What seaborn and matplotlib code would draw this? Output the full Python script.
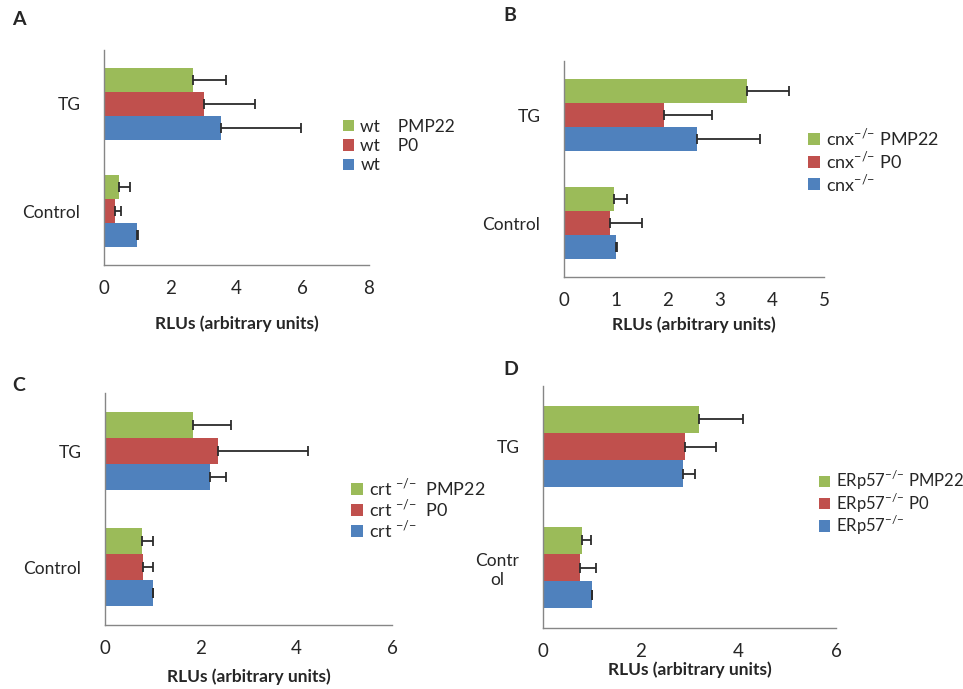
import numpy as np
import pandas as pd
import seaborn as sns
import matplotlib.pyplot as plt

categories = ['TG', 'Control']
colors = ['#9BBB59', '#C0504D', '#4F81BD']

SUP = r'$^{\mathrm{{-}/{-}}}$'

# panel A - wild type
a_labels = ['wt    PMP22', 'wt    P0', 'wt']
a_means = [[2.68, 0.46], [3.01, 0.34], [3.52, 1.00]]
a_errs = [[0.99, 0.33], [1.56, 0.16], [2.43, 0.02]]

# panel B - cnx
b_labels = ['cnx' + SUP + ' PMP22', 'cnx' + SUP + ' P0', 'cnx' + SUP]
b_means = [[3.52, 0.96], [1.92, 0.88], [2.56, 1.00]]
b_errs = [[0.81, 0.26], [0.93, 0.62], [1.20, 0.01]]

# panel C - crt
c_labels = ['crt ' + SUP + '  PMP22', 'crt ' + SUP + '  P0', 'crt ' + SUP]
c_means = [[1.85, 0.77], [2.36, 0.79], [2.20, 1.00]]
c_errs = [[0.78, 0.24], [1.89, 0.21], [0.32, 0.01]]

# panel D - ERp57
d_labels = ['ERp57' + SUP + ' PMP22', 'ERp57' + SUP + ' P0', 'ERp57' + SUP]
d_means = [[3.20, 0.80], [2.91, 0.75], [2.86, 1.00]]
d_errs = [[0.90, 0.18], [0.63, 0.33], [0.25, 0.01]]

AXIS_GREY = '#868686'


def plot_panel(ax, letter, labels, means, errs, xticks, ylabels, labelpad,
               leg_xy, leg_font, leg_space):
    """Horizontal grouped bars with one-sided error bars"""
    df = pd.DataFrame({
        'series': np.repeat(labels, len(categories)),
        'category': categories * len(labels),
        'rlu': np.concatenate(means),
    })
    sns.barplot(data=df, x='rlu', y='category', hue='series', order=categories,
                hue_order=labels, palette=colors, width=0.67, gap=0, saturation=1,
                errorbar=None, edgecolor='none', ax=ax)

    for cont, err in zip(ax.containers, errs):
        for bar, e in zip(cont, err):
            ax.errorbar(bar.get_width(), bar.get_y() + bar.get_height() / 2,
                        xerr=[[0], [e]], fmt='none', ecolor='#2b2b2b',
                        elinewidth=1.3, capsize=3.6, capthick=1.3)

    ax.set_xlim(xticks[0], xticks[-1])
    ax.set_xticks(xticks)
    ax.set_ylim(1.5, -0.5)
    ax.set_yticks([0, 1], labels=ylabels)
    ax.set_yticks([-0.5, 0.5, 1.5], minor=True)
    for lab in ax.get_yticklabels():
        lab.set_multialignment('center')
    ax.tick_params(axis='y', which='major', length=0, pad=17, labelsize=12.5)
    ax.tick_params(axis='y', which='minor', length=6, color=AXIS_GREY, width=1)
    ax.tick_params(axis='x', length=6, color=AXIS_GREY, width=1, labelsize=13.5, pad=5)
    ax.set_ylabel('')
    ax.set_xlabel('RLUs (arbitrary units)', fontweight='bold', fontsize=12.5, labelpad=labelpad)
    sns.despine(ax=ax)
    for side in ['left', 'bottom']:
        ax.spines[side].set_color(AXIS_GREY)
        ax.spines[side].set_linewidth(1)

    handles, texts = ax.get_legend_handles_labels()
    ax.legend(handles, texts, loc='center left', bbox_to_anchor=leg_xy,
              bbox_transform=ax.figure.transFigure, frameon=False, fontsize=leg_font,
              handlelength=0.65, handleheight=0.65, handletextpad=0.35,
              labelspacing=leg_space, borderpad=0, borderaxespad=0)

    ax.text(0, 1, letter, transform=ax.transAxes, fontsize=14, fontweight='bold')


def main():
    sns.set_style('white')
    plt.rcParams['font.family'] = ['Lato', 'DejaVu Sans']
    plt.rcParams['mathtext.fontset'] = 'custom'
    plt.rcParams['mathtext.rm'] = 'Lato'

    fig = plt.figure(figsize=(9.63, 6.89), dpi=100)
    W, H = 963, 689

    def add_ax(left, right, top, bottom):
        return fig.add_axes([left / W, 1 - bottom / H, (right - left) / W, (bottom - top) / H])

    ax_a = add_ax(104, 369, 50, 265)
    ax_b = add_ax(564, 824, 61, 277)
    ax_c = add_ax(105, 392, 393, 625)
    ax_d = add_ax(543, 836, 386, 628)

    plot_panel(ax_a, 'A', a_labels, a_means, a_errs, [0, 2, 4, 6, 8],
               ['TG', 'Control'], 13, (343 / W, 1 - 146 / H), 12.5, 0.2)
    plot_panel(ax_b, 'B', b_labels, b_means, b_errs, [0, 1, 2, 3, 4, 5],
               ['TG', 'Control'], 5, (808 / W, 1 - 160 / H), 13, 0.05)
    plot_panel(ax_c, 'C', c_labels, c_means, c_errs, [0, 2, 4, 6],
               ['TG', 'Control'], 8, (351 / W, 1 - 508 / H), 13, -0.05)
    plot_panel(ax_d, 'D', d_labels, d_means, d_errs, [0, 2, 4, 6],
               ['TG', 'Contr\nol'], 1, (819 / W, 1 - 503 / H), 12, -0.05)

    # panel letters sit in the top-left corner of each quadrant
    for ax, (x, y) in zip(fig.axes, [(12, 11), (503, 7), (12, 377), (503, 361)]):
        t = ax.texts[-1]
        t.set_transform(fig.transFigure)
        t.set_position((x / W, 1 - y / H))
        t.set_verticalalignment('top')

    fig.savefig('out.png', dpi=100)
    plt.close(fig)


if __name__ == '__main__':
    main()
